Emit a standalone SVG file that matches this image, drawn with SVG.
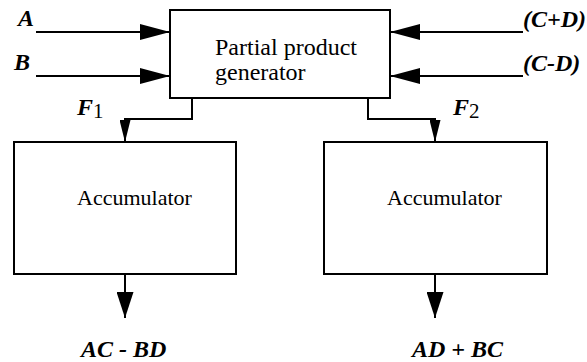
<svg xmlns="http://www.w3.org/2000/svg" width="587" height="362" viewBox="0 0 587 362">
<style>
.box{fill:#fff;stroke:#000;stroke-width:2}
.ln{fill:none;stroke:#000;stroke-width:2}
.t{font-family:"Liberation Serif","Times New Roman",serif;fill:#000}
.lbl{font-family:"Liberation Serif","Times New Roman",serif;font-weight:bold;font-style:italic;fill:#000;font-size:24px}
.sub{font-weight:normal;font-style:normal;font-size:21px}
</style>
<defs>
<marker id="mIn" markerUnits="userSpaceOnUse" markerWidth="30" markerHeight="16" refX="30" refY="8" orient="auto" viewBox="0 0 30 16"><path d="M0,0 L30,8 L0,16 z" fill="#000"/></marker>
<marker id="mF" markerUnits="userSpaceOnUse" markerWidth="22" markerHeight="11" refX="22" refY="5.5" orient="auto" viewBox="0 0 22 11"><path d="M0,0 L22,5.5 L0,11 z" fill="#000"/></marker>
<marker id="mOut" markerUnits="userSpaceOnUse" markerWidth="26" markerHeight="17" refX="26" refY="8.5" orient="auto" viewBox="0 0 26 17"><path d="M0,0 L26,8.5 L0,17 z" fill="#000"/></marker>
</defs>
<g id="connectors">
<line class="ln" x1="36" y1="32" x2="170" y2="32" marker-end="url(#mIn)"/>
<line class="ln" x1="36" y1="76" x2="170" y2="76" marker-end="url(#mIn)"/>
<line class="ln" x1="523" y1="32" x2="390" y2="32" marker-end="url(#mIn)"/>
<line class="ln" x1="523" y1="76" x2="390" y2="76" marker-end="url(#mIn)"/>
<path class="ln" d="M192,98 V119 H125 V142" marker-end="url(#mF)"/>
<path class="ln" d="M368,98 V119 H435 V142" marker-end="url(#mF)"/>
<line class="ln" x1="125" y1="274" x2="125" y2="318" marker-end="url(#mOut)"/>
<line class="ln" x1="435" y1="274" x2="435" y2="318" marker-end="url(#mOut)"/>
</g>
<g id="ppg">
<rect class="box" x="170" y="10" width="220" height="88"/>
<text class="t" x="215" y="55" font-size="24">Partial product</text>
<text class="t" x="215" y="80" font-size="24">generator</text>
</g>
<g id="acc1">
<rect class="box" x="14" y="142" width="222" height="132"/>
<text class="t" x="77" y="205" font-size="22">Accumulator</text>
</g>
<g id="acc2">
<rect class="box" x="324" y="142" width="223" height="132"/>
<text class="t" x="387" y="205" font-size="22">Accumulator</text>
</g>
<g id="labels">
<text class="lbl" x="18" y="26">A</text>
<text class="lbl" x="14" y="70">B</text>
<text class="lbl" x="523" y="27">(C+D)</text>
<text class="lbl" x="523" y="71">(C-D)</text>
<text class="lbl" x="77" y="115" font-size="22">F<tspan class="sub" dy="3">1</tspan></text>
<text class="lbl" x="453" y="115" font-size="22">F<tspan class="sub" dy="3">2</tspan></text>
<text class="lbl" x="81" y="357">AC - BD</text>
<text class="lbl" x="412" y="357">AD + BC</text>
</g>
</svg>
